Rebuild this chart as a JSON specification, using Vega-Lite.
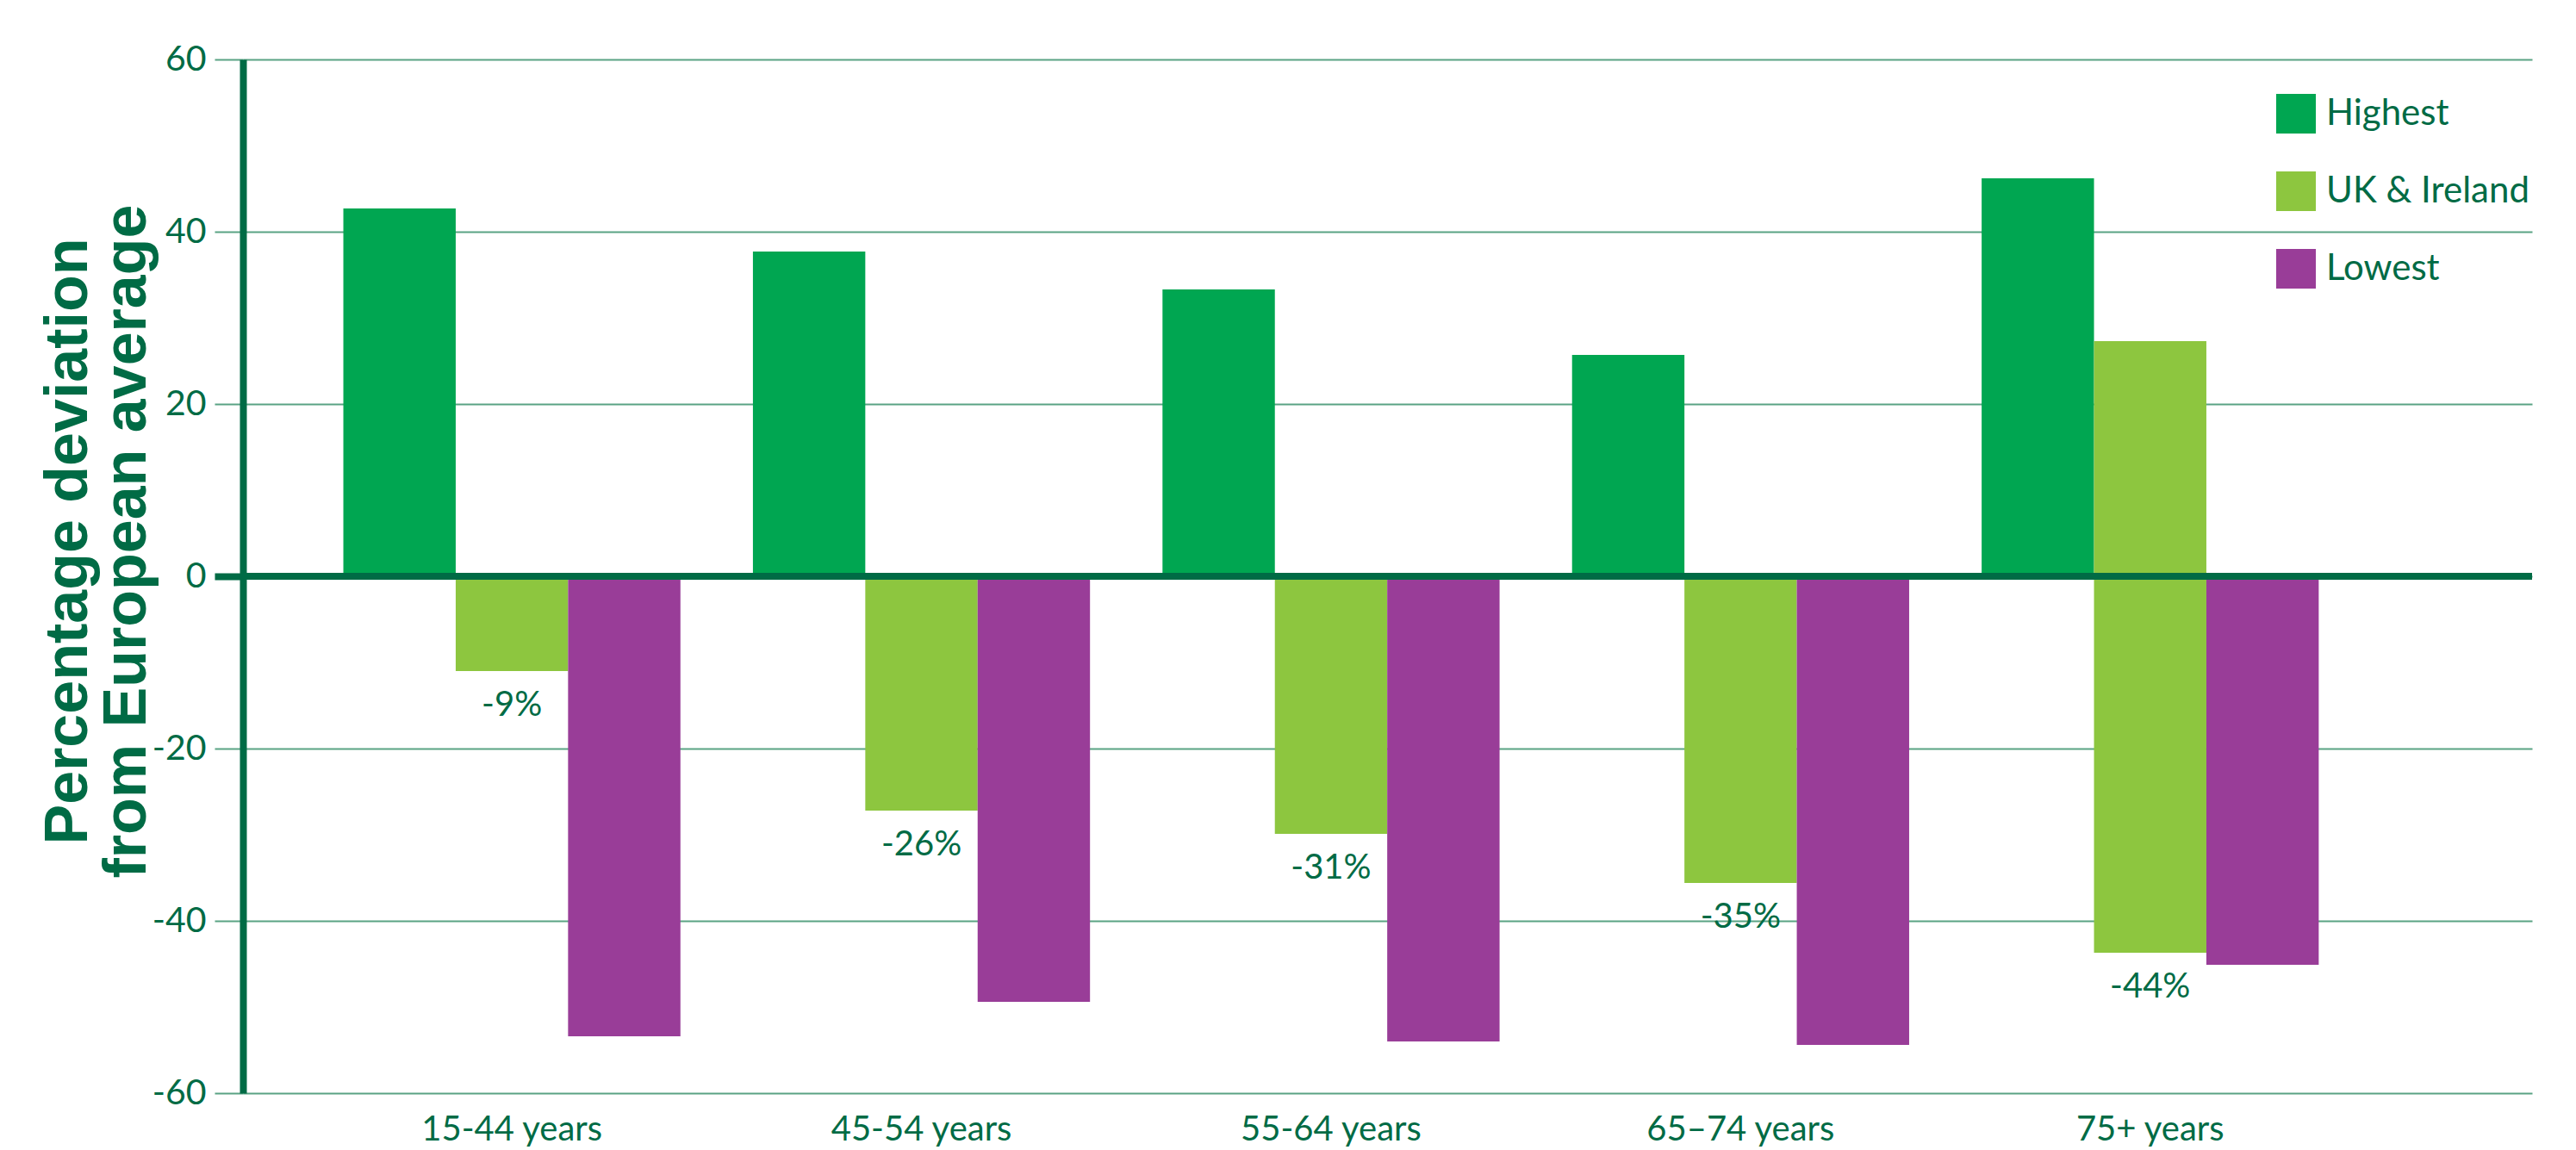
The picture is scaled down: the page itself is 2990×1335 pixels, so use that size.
{
  "$schema": "https://vega.github.io/schema/vega-lite/v6.json",
  "width": 2657,
  "height": 1200,
  "autosize": {"type": "none"},
  "padding": {"left": 282, "top": 69, "right": 51, "bottom": 66},
  "background": "white",
  "config": {"view": {"stroke": null}, "font": "Lato"},
  "data": {
    "values": [
      {"group": "15-44 years", "series": "Highest", "value": 42.7, "base": 0},
      {"group": "15-44 years", "series": "UK & Ireland", "value": -11.0, "base": 0, "label": "-9%"},
      {"group": "15-44 years", "series": "Lowest", "value": -53.4, "base": 0},
      {"group": "45-54 years", "series": "Highest", "value": 37.7, "base": 0},
      {"group": "45-54 years", "series": "UK & Ireland", "value": -27.2, "base": 0, "label": "-26%"},
      {"group": "45-54 years", "series": "Lowest", "value": -49.4, "base": 0},
      {"group": "55-64 years", "series": "Highest", "value": 33.3, "base": 0},
      {"group": "55-64 years", "series": "UK & Ireland", "value": -29.9, "base": 0, "label": "-31%"},
      {"group": "55-64 years", "series": "Lowest", "value": -54.0, "base": 0},
      {"group": "65–74 years", "series": "Highest", "value": 25.7, "base": 0},
      {"group": "65–74 years", "series": "UK & Ireland", "value": -35.6, "base": 0, "label": "-35%"},
      {"group": "65–74 years", "series": "Lowest", "value": -54.4, "base": 0},
      {"group": "75+ years", "series": "Highest", "value": 46.2, "base": 0},
      {"group": "75+ years", "series": "UK & Ireland", "value": -43.7, "base": 27.3, "label": "-44%"},
      {"group": "75+ years", "series": "Lowest", "value": -45.1, "base": 0}
    ]
  },
  "layer": [
    {
      "mark": {"type": "bar", "stroke": null},
      "encoding": {
        "x": {
          "field": "group", "type": "nominal", "sort": null,
          "scale": {"paddingInner": 0.177, "paddingOuter": 0.383, "align": 0.32},
          "axis": {
            "title": null, "domain": false, "ticks": false, "grid": false,
            "labelAngle": 0, "labelFontSize": 40, "labelColor": "#006B45",
            "labelPadding": 22, "labelFont": "Lato", "labelLimit": 0
          }
        },
        "xOffset": {
          "field": "series", "type": "nominal",
          "sort": ["Highest", "UK & Ireland", "Lowest"],
          "scale": {"paddingInner": 0, "paddingOuter": 0}
        },
        "y": {
          "field": "value", "type": "quantitative",
          "scale": {"domain": [-60, 60], "nice": false},
          "axis": {
            "values": [-60, -40, -20, 0, 20, 40, 60],
            "labelExpr": "replace(datum.label, '−', '-')",
            "title": ["Percentage deviation", "from European average"],
            "titleFont": "Liberation Sans", "titleFontWeight": "bold",
            "titleFontSize": 70, "titleColor": "#006B45", "titleLineHeight": 68,
            "titleAngle": -90, "titleX": -203, "titleY": 559,
            "titleAlign": "center", "titleBaseline": "middle",
            "labelFontSize": 41, "labelColor": "#006B45", "labelPadding": 10, "labelFont": "Lato",
            "tickSize": 33,
            "tickColor": {"condition": {"test": "datum.value === 0", "value": "#006B45"}, "value": "#5AA384"},
            "tickWidth": {"condition": {"test": "datum.value === 0", "value": 8}, "value": 2},
            "grid": true, "gridColor": "#5AA384", "gridWidth": 2,
            "domain": true, "domainColor": "#006B45", "domainWidth": 8
          }
        },
        "y2": {"field": "base"},
        "color": {
          "field": "series", "type": "nominal",
          "scale": {
            "domain": ["Highest", "UK & Ireland", "Lowest"],
            "range": ["#00A651", "#8DC63F", "#993D98"]
          },
          "legend": {
            "title": null, "orient": "none", "legendX": 2360, "legendY": 40,
            "symbolType": "square", "symbolSize": 2116, "symbolStrokeWidth": 0,
            "symbolOpacity": 1, "labelFontSize": 42, "labelColor": "#006B45",
            "labelFont": "Lato", "labelOffset": 12, "rowPadding": 44, "labelLimit": 0
          }
        }
      }
    },
    {
      "mark": {"type": "rule", "color": "#006B45", "strokeWidth": 8},
      "encoding": {"y": {"datum": 0}}
    },
    {
      "transform": [{"filter": "datum.label"}],
      "mark": {"type": "text", "baseline": "top", "dy": 20, "fontSize": 40, "color": "#006B45", "font": "Lato"},
      "encoding": {
        "x": {"field": "group", "type": "nominal", "sort": null},
        "y": {"field": "value", "type": "quantitative"},
        "text": {"field": "label"}
      }
    }
  ]
}
